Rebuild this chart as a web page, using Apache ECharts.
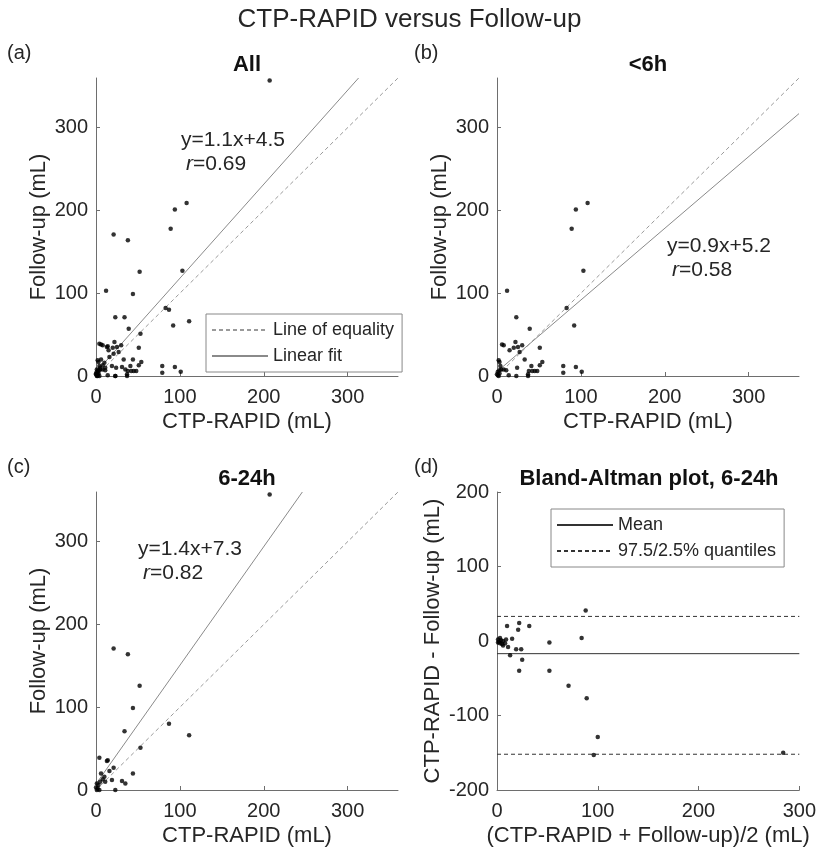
<!DOCTYPE html>
<html>
<head>
<meta charset="utf-8">
<script src="https://cdn.jsdelivr.net/npm/echarts@6/dist/echarts.min.js"></script>
<style>
html,body{margin:0;padding:0;background:#fff;}
#c{width:819px;height:853px;}
</style>
</head>
<body>
<div id="c"></div>
<script>
// ---- data ----
// <6h : CTP-RAPID (x) vs Follow-up (y), mL
const lt6X = [108,94,89,103,12,83,23,92,39,6,8,22,30,20,25,15,27,51,33,54,51,41,3,5,8,11,3,24,38,42,45,48,79,79,94,101,14,23,37,37,1,2,3,1,0,4,2];
const lt6Y = [209,201,178,127,103,82,71,61,57,38,37,41,37,34,35,31,29,34,20,17,13,12,17,8,8,7,7,10,6,6,6,6,12,4,11,5,1,0,0,2,1,0,3,5,2,12,19];
// 6-24h
const gt6X = [207,21,38,52,44,34,87,111,53,4,13,14,6,16,21,44,8,11,19,31,35,10,5,3,2,4,23,1,0,1];
const gt6Y = [357,171,164,126,99,71,80,66,51,39,35,36,20,23,27,20,13,10,12,11,8,16,10,6,2,0,0,0,3,8];
// Bland-Altman 6-24h: mean (x) vs difference (y)
const baX = [88,84,52,52,71,89,100,96,284,10,22,21,32,15,19,24,25,22,13,2,1,3,4,5,6,8,9,3,1,6,11];
const baY = [41,4,-2,-40,-60,-77,-129,-153,-150,20,24,15,20,3,-11,-11,-25,-40,-19,-1,2,-3,1,-4,-6,-3,2,4,-2,0,-8];
// reference lines (value-space endpoints)
const equalityX = [0,360], equalityY = [0,360];
const fitAllX = [0,313], fitAllY = [4.5,360];
const fitLt6X = [0,360], fitLt6Y = [5.2,317];
const fitGt6X = [0,246], fitGt6Y = [7.3,360];
const baMean = -17, baUpper = 33, baLower = -152, baRangeX = [0,300];
// ticks
const scatterTicks = [0,100,200,300];
const baXTicks = [0,100,200,300];
const baYTicks = [-200,-100,0,100,200];
// texts
const mainTitle = 'CTP-RAPID versus Follow-up';
const panelTitles = ['All','<6h','6-24h','Bland-Altman plot, 6-24h'];
const panelTags = ['(a)','(b)','(c)','(d)'];
const fitTexts = [['y=1.1x+4.5','0.69'],['y=0.9x+5.2','0.58'],['y=1.4x+7.3','0.82']];

// ---- build ----
const FONT = '"Liberation Sans", Arial, sans-serif';
const zip = (xs, ys) => xs.map((x,i)=>[x, ys[i]]);
const allX = lt6X.concat(gt6X), allY = lt6Y.concat(gt6Y);

const grids = [
  {left:96, top:78, width:302, height:298},
  {left:497, top:78, width:302, height:298},
  {left:96, top:492, width:302, height:298},
  {left:497, top:492, width:304, height:298}
];
const axisCol = '#6e6e6e', textCol = '#262626';
function mkX(gi, min, max, ticks, name){
  return {gridIndex:gi, type:'value', min:min, max:max, name:name, nameLocation:'middle', nameGap:35,
    nameTextStyle:{fontFamily:FONT,fontSize:22,color:textCol},
    axisLine:{show:true,onZero:false,lineStyle:{color:axisCol,width:1}},
    axisTick:{show:true,inside:true,length:4,customValues:ticks,lineStyle:{color:axisCol}},
    axisLabel:{customValues:ticks,fontFamily:FONT,fontSize:20,color:textCol,margin:11},
    splitLine:{show:false}};
}
function mkY(gi, min, max, ticks, name, gap){
  return {gridIndex:gi, type:'value', min:min, max:max, name:name, nameLocation:'middle', nameGap:gap, nameRotate:90,
    nameTextStyle:{fontFamily:FONT,fontSize:22,color:textCol},
    axisLine:{show:true,onZero:false,lineStyle:{color:axisCol,width:1}},
    axisTick:{show:true,inside:true,length:4,customValues:ticks,lineStyle:{color:axisCol}},
    axisLabel:{customValues:ticks,fontFamily:FONT,fontSize:20,color:textCol,margin:8},
    splitLine:{show:false}};
}
const xAxes = [
  mkX(0,0,360,scatterTicks,'CTP-RAPID (mL)'),
  mkX(1,0,360,scatterTicks,'CTP-RAPID (mL)'),
  mkX(2,0,360,scatterTicks,'CTP-RAPID (mL)'),
  mkX(3,0,300,baXTicks,'(CTP-RAPID + Follow-up)/2 (mL)')
];
const yAxes = [
  mkY(0,0,360,scatterTicks,'Follow-up (mL)',46),
  mkY(1,0,360,scatterTicks,'Follow-up (mL)',46),
  mkY(2,0,360,scatterTicks,'Follow-up (mL)',46),
  mkY(3,-200,200,baYTicks,'CTP-RAPID - Follow-up (mL)',53)
];

function dots(gi, xs, ys){
  return {type:'scatter', xAxisIndex:gi, yAxisIndex:gi, data:zip(xs,ys), symbol:'circle', symbolSize:4.5,
    itemStyle:{color:'#000'}, silent:true, z:5};
}
function line(gi, name, xs, ys, color, dashed){
  return {type:'line', name:name, xAxisIndex:gi, yAxisIndex:gi, data:zip(xs,ys), symbol:'none', silent:true,
    lineStyle:{color:color, width:1, type: dashed ? [4,3] : 'solid'}, itemStyle:{color:color, opacity:0}, clip:true, z:3};
}
const eqCol = '#9a9a9a', fitCol = '#8a8a8a';
const series = [
  dots(0, allX, allY),
  line(0,'Line of equality', equalityX, equalityY, eqCol, true),
  line(0,'Linear fit', fitAllX, fitAllY, fitCol, false),
  dots(1, lt6X, lt6Y),
  line(1,'Line of equality ', equalityX, equalityY, eqCol, true),
  line(1,'Linear fit ', fitLt6X, fitLt6Y, fitCol, false),
  dots(2, gt6X, gt6Y),
  line(2,'Line of equality  ', equalityX, equalityY, eqCol, true),
  line(2,'Linear fit  ', fitGt6X, fitGt6Y, fitCol, false),
  dots(3, baX, baY),
  line(3,'Mean', baRangeX, [baMean,baMean], '#333', false),
  line(3,'97.5/2.5% quantiles', baRangeX, [baUpper,baUpper], '#333', true),
  line(3,'97.5/2.5% quantiles', baRangeX, [baLower,baLower], '#333', true)
];

function legend(left, top, names){
  return {show:true, orient:'vertical', left:left, top:top, data:names, selectedMode:false,
    backgroundColor:'#fff', borderColor:'#888', borderWidth:1, borderRadius:0, padding:[7,8,7,5],
    itemWidth:56, itemHeight:14, itemGap:8,
    textStyle:{fontFamily:FONT, fontSize:18, color:textCol}};
}

const g = [];
g.push({type:'text', left:'center', top:7, style:{text:mainTitle, font:'26px '+FONT, fill:textCol}});
const tagPos = [[7,43],[414,43],[7,457],[414,457]];
panelTags.forEach((t,i)=>g.push({type:'text', x:tagPos[i][0], y:tagPos[i][1], style:{text:t, font:'20px '+FONT, fill:textCol}}));
panelTitles.forEach((t,i)=>{
  const gr = grids[i];
  g.push({type:'text', x:gr.left+gr.width/2, y:gr.top-24, style:{text:t, font:'bold 22px '+FONT, fill:'#111', textAlign:'center'}});
});
const fitPos = [[181,130],[667,236],[138,539]];
fitTexts.forEach((f,i)=>{
  g.push({type:'text', x:fitPos[i][0], y:fitPos[i][1], style:{text:f[0], font:'21px '+FONT, fill:textCol}});
  g.push({type:'text', x:fitPos[i][0]+5, y:fitPos[i][1]+24, style:{
    text:'{i|r}{n|='+f[1]+'}', rich:{i:{font:'italic 21px '+FONT, fill:textCol}, n:{font:'21px '+FONT, fill:textCol}}}});
});

const chart = echarts.init(document.getElementById('c'), null, {renderer:'canvas'});
chart.setOption({
  backgroundColor:'#fff',
  animation:false,
  grid:grids.map(x=>Object.assign({containLabel:false}, x)),
  xAxis:xAxes,
  yAxis:yAxes,
  legend:[legend(206,314,['Line of equality','Linear fit']), legend(551,509,['Mean','97.5/2.5% quantiles'])],
  series:series,
  graphic:g
});
</script>
</body>
</html>
